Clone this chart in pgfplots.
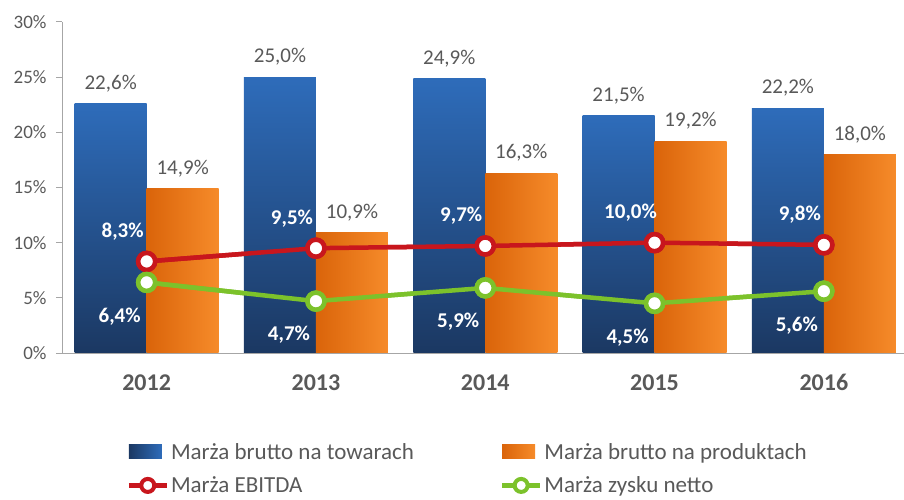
\documentclass[border=0pt]{standalone}
\usepackage{pgfplots}
\pgfplotsset{compat=1.18}
\usepackage{fontspec}
\setmainfont{Carlito}
\definecolor{txtgray}{HTML}{595959}
\definecolor{axgray}{HTML}{A6A6A6}
\definecolor{bluetop}{HTML}{2E6CBA}
\definecolor{bluebot}{HTML}{1B3862}
\definecolor{orL}{HTML}{DA640A}
\definecolor{orR}{HTML}{F68B2A}
\definecolor{ebitda}{HTML}{C8161D}
\definecolor{netto}{HTML}{7CC22B}
\pgfplotsset{
  bluebar/.style={ybar, bar width=72bp, bar shift=-36bp, draw=none, top color=bluetop, bottom color=bluebot,
    legend image code/.code={\fill[left color=bluebot, right color=bluetop] (0bp,-7bp) rectangle (33bp,7bp);}},
  orbar/.style={ybar, bar width=72bp, bar shift=36bp, draw=none, left color=orL, right color=orR,
    legend image code/.code={\fill[left color=orL, right color=orR] (0bp,-7bp) rectangle (33bp,7bp);}},
}
\begin{document}
\begin{tikzpicture}
\useasboundingbox (0,0) rectangle (904bp,500bp);
\clip (0,0) rectangle (904bp,500bp);
\begin{axis}[
  at={(62bp,147bp)}, anchor=south west,
  scale only axis, width=846.5bp, height=331bp,
  xmin=-0.5, xmax=4.5, ymin=0, ymax=30,
  axis x line*=bottom, axis y line*=left,
  axis line style={axgray, line width=1bp},
  tick align=outside,
  major tick length=6bp,
  tick style={axgray, line width=1bp},
  xtick={0,1,2,3,4},
  xticklabels={2012,2013,2014,2015,2016},
  major x tick style={draw=none},
  extra x ticks={-0.5,0.5,1.5,2.5,3.5,4.5},
  extra x tick labels={},
  extra x tick style={major tick length=6bp, tick style={axgray, line width=1bp}},
  xticklabel style={font=\fontsize{24bp}{28bp}\selectfont\bfseries, text=txtgray, yshift=-12bp},
  ytick={0,5,10,15,20,25,30},
  yticklabel={\pgfmathprintnumber{\tick}\%},
  yticklabel style={font=\fontsize{19bp}{22bp}\selectfont, text=txtgray, xshift=-6bp},
  /pgf/number format/assume math mode=true,
  legend columns=2,
  legend cell align=left,
  legend style={at={(axis description cs:0.076,-0.266)}, anchor=north west, draw=none, fill=none,
    font=\fontsize{23bp}{27bp}\selectfont, text=txtgray, row sep=12bp,
    /tikz/every even column/.append style={column sep=84bp},
    inner sep=0pt},
  clip=false,
]
% blue bars (one plot per bar so each gets its own shading)
\addplot[bluebar] coordinates {(0,22.6)};
\addlegendentry{Marża brutto na towarach}
\addplot[orbar] coordinates {(0,14.9)};
\addlegendentry{Marża brutto na produktach}
\addplot[ebitda, line width=4.5bp, mark=*, mark size=8.5bp, mark options={fill=white, draw=ebitda, line width=4.5bp},
  legend image code/.code={\draw[line width=4.5bp, ebitda] (0bp,0bp) -- (38bp,0bp);
    \draw[line width=4bp, ebitda, fill=white] (19bp,0bp) circle (6.5bp);}]
  coordinates {(0,8.3) (1,9.5) (2,9.7) (3,10.0) (4,9.8)};
\addlegendentry{Marża EBITDA}
\addplot[netto, line width=4.5bp, mark=*, mark size=8.5bp, mark options={fill=white, draw=netto, line width=4.5bp},
  legend image code/.code={\draw[line width=4.5bp, netto] (0bp,0bp) -- (38bp,0bp);
    \draw[line width=4bp, netto, fill=white] (19bp,0bp) circle (6.5bp);}]
  coordinates {(0,6.4) (1,4.7) (2,5.9) (3,4.5) (4,5.6)};
\addlegendentry{Marża zysku netto}
\addplot[bluebar, forget plot] coordinates {(1,25.0)};
\addplot[bluebar, forget plot] coordinates {(2,24.9)};
\addplot[bluebar, forget plot] coordinates {(3,21.5)};
\addplot[bluebar, forget plot] coordinates {(4,22.2)};
\addplot[orbar, forget plot] coordinates {(1,10.9)};
\addplot[orbar, forget plot] coordinates {(2,16.3)};
\addplot[orbar, forget plot] coordinates {(3,19.2)};
\addplot[orbar, forget plot] coordinates {(4,18.0)};
% redraw lines on top of bars
\addplot[ebitda, line width=4.5bp, mark=*, mark size=8.5bp, mark options={fill=white, draw=ebitda, line width=4.5bp}, forget plot]
  coordinates {(0,8.3) (1,9.5) (2,9.7) (3,10.0) (4,9.8)};
\addplot[netto, line width=4.5bp, mark=*, mark size=8.5bp, mark options={fill=white, draw=netto, line width=4.5bp}, forget plot]
  coordinates {(0,6.4) (1,4.7) (2,5.9) (3,4.5) (4,5.6)};
% labels
\addplot[draw=none, mark=none, forget plot,
  nodes near coords={\pgfmathprintnumber[fixed,fixed zerofill,precision=1,use comma]{\pgfplotspointmeta}\%},
  every node near coord/.append style={font=\fontsize{21bp}{25bp}\selectfont, text=txtgray, anchor=center, xshift=-36bp, yshift=20bp}]
  coordinates {(0,22.6) (1,25.0) (2,24.9) (3,21.5) (4,22.2)};
\addplot[draw=none, mark=none, forget plot,
  nodes near coords={\pgfmathprintnumber[fixed,fixed zerofill,precision=1,use comma]{\pgfplotspointmeta}\%},
  every node near coord/.append style={font=\fontsize{21bp}{25bp}\selectfont, text=txtgray, anchor=center, xshift=36bp, yshift=20bp}]
  coordinates {(0,14.9) (1,10.9) (2,16.3) (3,19.2) (4,18.0)};
\addplot[draw=none, mark=none, forget plot,
  nodes near coords={\pgfmathprintnumber[fixed,fixed zerofill,precision=1,use comma]{\pgfplotspointmeta}\%},
  every node near coord/.append style={font=\fontsize{21bp}{25bp}\selectfont\bfseries, text=white, anchor=center, xshift=-24bp, yshift=30bp}]
  coordinates {(0,8.3) (1,9.5) (2,9.7) (3,10.0) (4,9.8)};
\addplot[draw=none, mark=none, forget plot,
  nodes near coords={\pgfmathprintnumber[fixed,fixed zerofill,precision=1,use comma]{\pgfplotspointmeta}\%},
  every node near coord/.append style={font=\fontsize{21bp}{25bp}\selectfont\bfseries, text=white, anchor=center, xshift=-27bp, yshift=-34bp}]
  coordinates {(0,6.4) (1,4.7) (2,5.9) (3,4.5) (4,5.6)};
\end{axis}
\end{tikzpicture}
\end{document}
